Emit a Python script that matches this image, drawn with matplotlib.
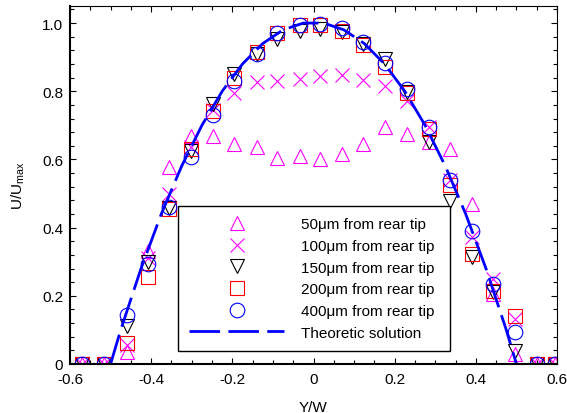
import matplotlib
matplotlib.use("Agg")
import matplotlib.pyplot as plt
from matplotlib.ticker import MultipleLocator

plt.rcParams["font.family"] = ["Liberation Sans", "DejaVu Sans"]
plt.rcParams["mathtext.fontset"] = "custom"
plt.rcParams["mathtext.rm"] = "Liberation Sans"
plt.rcParams["font.size"] = 11

# Measured positions (Y/W) and normalised velocity U/Umax
y_w = [-0.570, -0.516, -0.460, -0.408, -0.357, -0.302, -0.248, -0.197, -0.140, -0.089,
       -0.034, 0.017, 0.071, 0.123, 0.177, 0.231, 0.285, 0.337, 0.391, 0.443,
       0.497, 0.551, 0.595]

u_50 = [0, 0, 0.035, 0.33, 0.578, 0.669, 0.668, 0.645, 0.636, 0.604,
        0.61, 0.60, 0.616, 0.645, 0.695, 0.675, 0.65, 0.63, 0.469, 0.205,
        0.03, 0, 0]
u_100 = [0, 0, 0.057, 0.31, 0.498, 0.636, 0.745, 0.795, 0.826, 0.83,
         0.836, 0.845, 0.848, 0.833, 0.815, 0.771, 0.695, 0.54, 0.372, 0.249,
         0.132, 0, 0]
u_150 = [0, 0, 0.112, 0.30, 0.457, 0.625, 0.762, 0.85, 0.909, 0.953,
         0.977, 0.982, 0.973, 0.938, 0.894, 0.797, 0.65, 0.478, 0.314, 0.211,
         0.038, 0, 0]
u_200 = [0, 0, 0.062, 0.255, 0.455, 0.63, 0.742, 0.838, 0.915, 0.97,
         0.994, 0.995, 0.977, 0.936, 0.87, 0.795, 0.689, 0.525, 0.323, 0.214,
         0.14, 0, 0]
u_400 = [0, 0, 0.144, 0.293, 0.46, 0.607, 0.73, 0.83, 0.909, 0.97,
         0.994, 0.997, 0.985, 0.944, 0.882, 0.806, 0.695, 0.54, 0.39, 0.235,
         0.094, 0, 0]

# Theoretic profile
x_theory = [-0.5, -0.475, -0.45, -0.425, -0.4, -0.375, -0.35, -0.325, -0.3, -0.275,
            -0.25, -0.225, -0.2, -0.175, -0.15, -0.125, -0.1, -0.075, -0.05, -0.025,
            0, 0.025, 0.05, 0.075, 0.1, 0.125, 0.15, 0.175, 0.2, 0.225,
            0.25, 0.275, 0.3, 0.325, 0.35, 0.375, 0.4, 0.425, 0.45, 0.475, 0.5]
u_theory = [0, 0.10, 0.19, 0.28, 0.36, 0.44, 0.51, 0.58, 0.64, 0.70,
            0.75, 0.80, 0.84, 0.88, 0.91, 0.94, 0.96, 0.98, 0.99, 1.0,
            1.0, 1.0, 0.99, 0.98, 0.96, 0.94, 0.91, 0.88, 0.84, 0.80,
            0.75, 0.70, 0.64, 0.58, 0.51, 0.44, 0.36, 0.28, 0.19, 0.10, 0]

labels = ["50\u03bcm from rear tip", "100\u03bcm from rear tip", "150\u03bcm from rear tip",
          "200\u03bcm from rear tip", "400\u03bcm from rear tip", "Theoretic solution"]

fig = plt.figure(figsize=(5.67, 4.14), dpi=100)
ax = fig.add_axes([70 / 567, 1 - 365 / 414, 487 / 567, 358 / 414])

ms = 10.5
mew = 0.8
ax.plot(y_w, u_50, ls="none", marker="^", ms=ms, mfc="none", mec="#FF00FF", mew=mew, label=labels[0])
ax.plot(y_w, u_100, ls="none", marker="x", ms=ms, mec="#FF00FF", mew=mew, label=labels[1])
ax.plot(y_w, u_150, ls="none", marker="v", ms=ms, mfc="none", mec="black", mew=mew, label=labels[2])
ax.plot(y_w, u_200, ls="none", marker="s", ms=ms * 0.95, mfc="none", mec="#FF0000", mew=mew, label=labels[3])
ax.plot(y_w, u_400, ls="none", marker="o", ms=ms, mfc="none", mec="#0000FF", mew=mew, label=labels[4])
ax.plot(x_theory, u_theory, color="#0000FF", lw=2, ls=(0, (11, 3)), label=labels[5])

ax.set_xlim(-0.6, 0.6)
ax.set_ylim(0, 1.05)
ax.xaxis.set_major_locator(MultipleLocator(0.2))
ax.xaxis.set_minor_locator(MultipleLocator(0.05))
ax.yaxis.set_major_locator(MultipleLocator(0.2))
ax.yaxis.set_minor_locator(MultipleLocator(0.04))
ax.set_xticks([-0.6, -0.4, -0.2, 0, 0.2, 0.4, 0.6])
ax.set_xticklabels(["-0.6", "-0.4", "-0.2", "0", "0.2", "0.4", "0.6"])
ax.set_yticks([0, 0.2, 0.4, 0.6, 0.8, 1.0])
ax.set_yticklabels(["0", "0.2", "0.4", "0.6", "0.8", "1.0"])
ax.tick_params(which="both", direction="in", top=True, right=True, width=0.8)
ax.tick_params(which="major", length=4)
ax.tick_params(which="minor", length=3)
ax.tick_params(axis="x", pad=6)
ax.tick_params(axis="y", pad=5)

ax.spines["left"].set_linewidth(1.5)
ax.spines["bottom"].set_linewidth(1.5)
ax.spines["top"].set_linewidth(0.8)
ax.spines["right"].set_linewidth(0.8)

ax.set_xlabel("Y/W", labelpad=10)
ax.set_ylabel(r"U/U$_{\rm max}$", labelpad=11)

leg = ax.legend(loc="lower left", bbox_to_anchor=(0.2218, 0.0363, 0.5585, 0.40), mode="expand",
                borderaxespad=0, frameon=True, fancybox=False, framealpha=1, edgecolor="black",
                handlelength=6.2, handletextpad=1.1, labelspacing=0.5, borderpad=0.75)
leg.get_frame().set_linewidth(1.0)

fig.savefig("out.png", dpi=100)
